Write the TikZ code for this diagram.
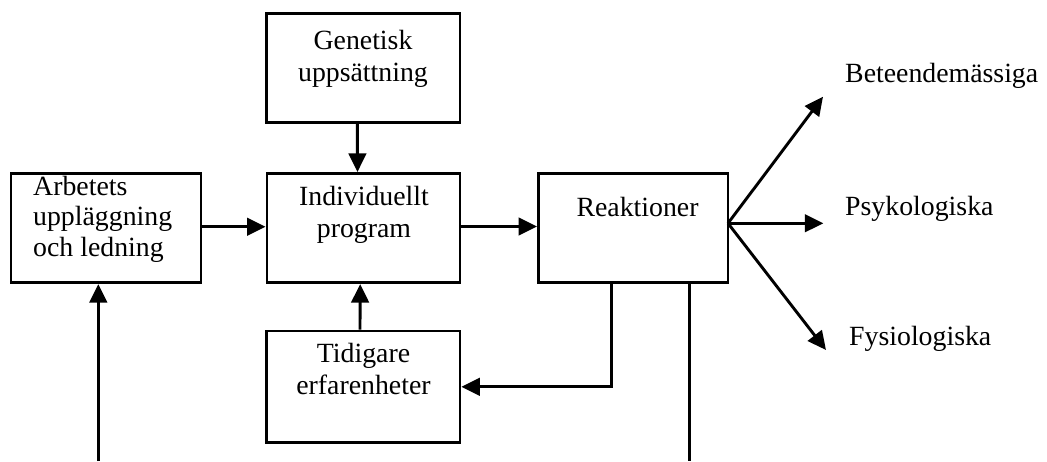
\documentclass[tikz,border=0pt]{standalone}
\usepackage{fontspec}
\setmainfont{Liberation Serif}
\usetikzlibrary{arrows.meta}
\begin{document}
\begin{tikzpicture}[x=1pt,y=-1pt,
  box/.style={draw, line width=2.9pt, minimum width=#1, inner sep=0pt},
  txt/.style={inner sep=0pt, anchor=base, font=\fontsize{27.8}{32}\selectfont},
  lbl/.style={inner sep=0pt, anchor=base west, font=\fontsize{27.8}{32}\selectfont},
  conn/.style={line width=2.9pt, -{Triangle[length=18.5pt,width=17.5pt]}},
  plain/.style={line width=2.9pt}
]
\useasboundingbox (0,0) rectangle (1047,461);

% boxes
\node[box=190pt, minimum height=109.4pt] (arb) at (106,228) {};
\node[box=193.3pt, minimum height=109.4pt] (gen) at (363.3,68) {};
\node[box=193pt, minimum height=109.2pt] (ind) at (363.5,228) {};
\node[box=193.3pt, minimum height=111.7pt] (tid) at (363.3,386.8) {};
\node[box=189.5pt, minimum height=109.4pt] (rea) at (633.2,228) {};

% box texts
\node[txt, anchor=base west] (arbtxt) at (33,195)
  {\def\arraystretch{0.96}\begin{tabular}[t]{@{}l@{}}Arbetets\\uppläggning\\och ledning\end{tabular}};
\node[txt] (gentxt) at (363,49)
  {\begin{tabular}[t]{@{}c@{}}Genetisk\\uppsättning\end{tabular}};
\node[txt] (indtxt) at (364,205)
  {\begin{tabular}[t]{@{}c@{}}Individuellt\\program\end{tabular}};
\node[txt] (tidtxt) at (363.5,362.3)
  {\begin{tabular}[t]{@{}c@{}}Tidigare\\erfarenheter\end{tabular}};
\node[txt] (reatxt) at (637.5,216.7) {Reaktioner};

% outcome labels
\node[lbl] (beh) at (845,82) {Beteendemässiga};
\node[lbl] (psy) at (845,215) {Psykologiska};
\node[lbl] (fys) at (849,345) {Fysiologiska};

% free ends and fan
\coordinate (arbin) at (98.3,461);
\coordinate (reaout) at (689.3,461);
\coordinate (fan) at (728,223.3);
\coordinate (behtip) at (823,96.7);
\coordinate (psytip) at (823.3,223.3);
\coordinate (fystip) at (826,350);

% connectors
\draw[conn] (arb.east |- 0,226.7) -- (ind.west |- 0,226.7);
\draw[conn] ([xshift=-6pt]gen.south) -- ([xshift=-6pt]ind.north);
\draw[conn] ([xshift=-3.3pt]tid.north) -- ([xshift=-3.3pt]ind.south);
\draw[conn] (ind.east |- 0,226.5) -- (rea.west |- 0,226.5);
\draw[conn] ([xshift=-21.5pt]rea.south) |- (tid.east);
\draw[plain] ([xshift=56.1pt]rea.south) -- (reaout);
\draw[conn] (arbin) -- (arbin |- arb.south);
\draw[conn] (fan) -- (behtip);
\draw[conn] (fan) -- (psytip);
\draw[conn] (fan) -- (fystip);
\end{tikzpicture}
\end{document}
